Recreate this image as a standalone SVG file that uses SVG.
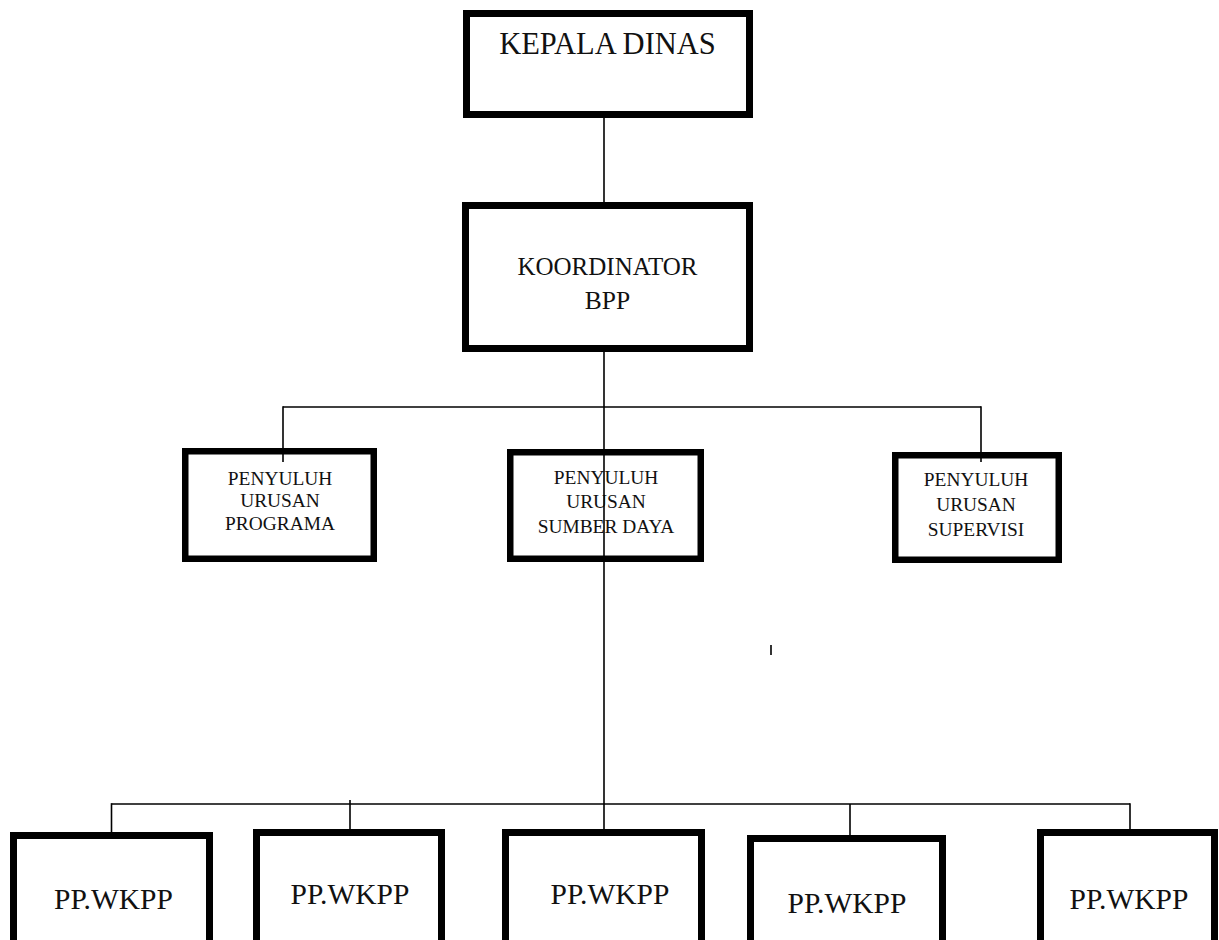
<svg xmlns="http://www.w3.org/2000/svg" width="1219" height="940" viewBox="0 0 1219 940">
<style>
.box{fill:#fff;stroke:#000}
.t{font-family:"Liberation Serif","Times New Roman",serif;fill:#111;text-anchor:middle}
.c{stroke:#000;fill:none;stroke-width:1.6}
</style>
<rect x="0" y="0" width="1219" height="940" fill="#fff"/>
<g id="kepala-dinas">
<rect class="box" x="466.5" y="13.5" width="283" height="101" stroke-width="7"/>
<text class="t" x="607.5" y="53.5" font-size="30.5">KEPALA DINAS</text>
</g>
<g id="koordinator-bpp">
<rect class="box" x="465.5" y="205.5" width="284" height="143" stroke-width="7"/>
<text class="t" x="607.5" y="274.5" font-size="25">KOORDINATOR</text>
<text class="t" x="607.5" y="309" font-size="25.5">BPP</text>
</g>
<g id="penyuluh-programa">
<rect class="box" x="185.25" y="451.25" width="188.5" height="107.5" stroke-width="6.5"/>
<text class="t" x="280" y="485" font-size="19.4">PENYULUH</text>
<text class="t" x="280" y="507" font-size="19.4">URUSAN</text>
<text class="t" x="280" y="529.5" font-size="19.4">PROGRAMA</text>
</g>
<g id="penyuluh-sumber-daya">
<rect class="box" x="510.25" y="452.25" width="190.5" height="106.5" stroke-width="6.5"/>
<text class="t" x="606" y="484" font-size="19.4">PENYULUH</text>
<text class="t" x="606" y="507.5" font-size="19.4">URUSAN</text>
<text class="t" x="606" y="532.5" font-size="19.4">SUMBER DAYA</text>
</g>
<g id="penyuluh-supervisi">
<rect class="box" x="895.25" y="455.25" width="163.5" height="104.5" stroke-width="6.5"/>
<text class="t" x="976" y="485.5" font-size="19.4">PENYULUH</text>
<text class="t" x="976" y="510.5" font-size="19.4">URUSAN</text>
<text class="t" x="976" y="535.5" font-size="19.4">SUPERVISI</text>
</g>
<g id="pp-wkpp-1">
<rect class="box" x="13.5" y="835.5" width="196" height="120" stroke-width="7"/>
<text class="t" x="113.5" y="908.5" font-size="29.5">PP.WKPP</text>
</g>
<g id="pp-wkpp-2">
<rect class="box" x="256.5" y="832.5" width="185" height="120" stroke-width="7"/>
<text class="t" x="350" y="903.5" font-size="29.5">PP.WKPP</text>
</g>
<g id="pp-wkpp-3">
<rect class="box" x="505.5" y="832.5" width="196" height="120" stroke-width="7"/>
<text class="t" x="610" y="903.5" font-size="29.5">PP.WKPP</text>
</g>
<g id="pp-wkpp-4">
<rect class="box" x="750.5" y="838.5" width="192" height="120" stroke-width="7"/>
<text class="t" x="847" y="912.5" font-size="29.5">PP.WKPP</text>
</g>
<g id="pp-wkpp-5">
<rect class="box" x="1040.5" y="832.5" width="174" height="120" stroke-width="7"/>
<text class="t" x="1129" y="908.5" font-size="29.5">PP.WKPP</text>
</g>
<g id="connectors">
<line class="c" x1="604" y1="118" x2="604" y2="203" stroke-width="2"/>
<line class="c" x1="604" y1="352" x2="604" y2="830" stroke-width="2"/>
<line class="c" x1="283" y1="407" x2="981" y2="407"/>
<line class="c" x1="283" y1="406.2" x2="283" y2="462"/>
<line class="c" x1="981" y1="406.2" x2="981" y2="462"/>
<line class="c" x1="111.5" y1="804" x2="1130" y2="804"/>
<line class="c" x1="111.5" y1="803.2" x2="111.5" y2="834"/>
<line class="c" x1="350" y1="800" x2="350" y2="831"/>
<line class="c" x1="850" y1="804" x2="850" y2="837"/>
<line class="c" x1="1130" y1="803.2" x2="1130" y2="831"/>
<line class="c" x1="771" y1="645" x2="771" y2="655" stroke-width="2"/>
</g>
</svg>
